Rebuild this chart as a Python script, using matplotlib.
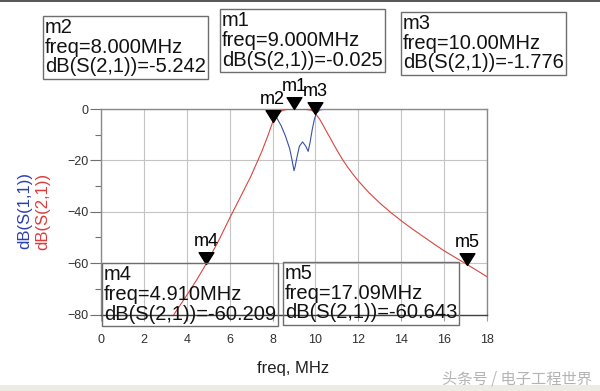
import matplotlib
matplotlib.use("Agg")
import matplotlib.pyplot as plt
from matplotlib.path import Path
from matplotlib.patches import Rectangle

plt.rcParams['font.family'] = ['Liberation Sans', 'DejaVu Sans']

# dB(S(2,1))
s21_freq = [3.2, 3.4, 4.0, 4.5, 4.91, 5.5, 6.0, 6.5, 7.0, 7.5, 7.8, 8.0, 8.2, 8.4,
            8.6, 8.8, 9.0, 9.2, 9.4, 9.6, 9.8, 9.9, 10.0, 10.2, 10.4, 10.6, 10.8,
            11.0, 11.25, 11.5, 11.75, 12.0, 12.5, 13.0, 13.5, 14.0, 14.5, 15.0,
            15.5, 16.0, 16.5, 17.09, 17.5, 18.0]
s21_db = [-83.0, -80.0, -72.5, -66.0, -60.2, -51.0, -42.5, -34.3, -26.0, -16.5,
          -10.0, -5.24, -2.3, -0.8, -0.25, -0.08, -0.025, -0.05, -0.1, -0.2,
          -0.45, -0.9, -1.776, -4.0, -7.0, -10.0, -13.0, -16.0, -19.5, -22.6,
          -25.4, -28.0, -32.6, -36.6, -40.2, -43.5, -46.6, -49.5, -52.4, -55.2,
          -57.7, -60.64, -62.7, -65.3]

# dB(S(1,1))
s11_freq = [0.0, 7.6, 7.8, 8.0, 8.2, 8.4, 8.6, 8.8, 8.9, 9.0, 9.05, 9.12, 9.25,
            9.4, 9.55, 9.66, 9.75, 9.85, 9.95, 10.05, 10.2, 10.4, 10.7, 18.0]
s11_db = [0.0, -0.1, -0.5, -1.8, -3.5, -6.5, -10.5, -15.5, -19.5, -24.0, -22.5,
          -19.5, -14.5, -12.8, -14.5, -16.5, -13.0, -8.0, -4.0, -1.6, -0.4,
          -0.1, 0.0, 0.0]

# markers on dB(S(2,1))
marker_names = ['m1', 'm2', 'm3', 'm4', 'm5']
marker_freq = [9.0, 8.0, 10.0, 4.91, 17.09]
marker_db = [-0.025, -5.242, -1.776, -60.209, -60.643]
marker_freq_txt = ['9.000', '8.000', '10.00', '4.910', '17.09']

x_ticks = [0, 2, 4, 6, 8, 10, 12, 14, 16, 18]
y_ticks = [-80, -60, -40, -20, 0]

W, H = 600, 391
fig = plt.figure(figsize=(6, 3.91), dpi=100)
ax = fig.add_axes([101 / W, 1 - 314.5 / H, 386 / W, 205.5 / H])

ax.plot(s11_freq, s11_db, color='#3a4fa8', lw=0.8, zorder=2)
ax.plot(s21_freq, s21_db, color='#d9453f', lw=0.8, zorder=3)

ax.set_xlim(0, 18)
ax.set_ylim(-80, 0)
ax.set_xticks(x_ticks)
ax.set_yticks(y_ticks)
ax.set_yticks([-70, -50, -30, -10], minor=True)
ax.grid(True, which='major', color='#c4c4c4', lw=0.8)
ax.set_axisbelow(True)
ax.tick_params(axis='y', which='major', length=8, width=0.8, color='#707070',
               pad=1, labelsize=9, labelcolor='#303030')
ax.tick_params(axis='y', which='minor', length=4, width=0.8, color='#707070')
ax.tick_params(axis='x', which='major', length=4, width=0.8, color='#a0a0a0',
               pad=10, labelsize=9, labelcolor='#303030')
for sp in ax.spines.values():
    sp.set_color('#8a8a8a')
    sp.set_linewidth(1)
ax.spines['bottom'].set_color('#404040')

# ADS style marker: filled triangle with the tip on the point
tri = Path([(-0.5, 0.8), (0.5, 0.8), (0.0, 0.0), (-0.5, 0.8)],
           [Path.MOVETO, Path.LINETO, Path.LINETO, Path.CLOSEPOLY])
for name, f, v in zip(marker_names, marker_freq, marker_db):
    ax.plot([f], [v], marker=tri, ms=17, color='black', clip_on=False, zorder=5)
    ax.annotate(name, (f, v), xytext=(0, 13), textcoords='offset points',
                ha='center', va='baseline', fontsize=13, annotation_clip=False,
                zorder=6)

# readout boxes (top-left corner in pixels)
box_pos = {'m1': (220, 9), 'm2': (43, 16), 'm3': (401, 12),
           'm4': (102, 263), 'm5': (283, 262)}
for name, ftxt, v in zip(marker_names, marker_freq_txt, marker_db):
    bx, by = box_pos[name]
    txt = f"{name}\nfreq={ftxt}MHz\ndB(S(2,1))={v:.3f}"
    fig.text((bx + 2) / W, 1 - (by + 2) / H, txt, ha='left', va='top',
             fontsize=14.5, linespacing=1.05, color='#111111',
             bbox=dict(boxstyle='square,pad=0.1', fc='none', ec='#6e6e6e', lw=1))

fig.text(25 / W, 1 - 211 / H, 'dB(S(1,1))', rotation=90, ha='center',
         va='center', fontsize=12, color='#2c3fb0')
fig.text(43 / W, 1 - 211 / H, 'dB(S(2,1))', rotation=90, ha='center',
         va='center', fontsize=12, color='#e03a3a')
fig.text(293 / W, 1 - 368 / H, 'freq, MHz', ha='center', va='center',
         fontsize=12, color='#202020')

fig.text(592 / W, 1 - 379 / H, '头条号 / 电子工程世界', ha='right', va='center',
         fontsize=11, color='#b4b4b4',
         family=['Noto Sans CJK SC', 'DejaVu Sans'])

# frame of the screenshot
fig.add_artist(Rectangle((0, 1 - 2 / H), 1, 2 / H, transform=fig.transFigure,
                         color='#5a5a5a', lw=0))
fig.add_artist(Rectangle((0, 0), 1, 6 / H, transform=fig.transFigure,
                         color='#ecebe4', lw=0))

fig.savefig('out.png', dpi=100)
